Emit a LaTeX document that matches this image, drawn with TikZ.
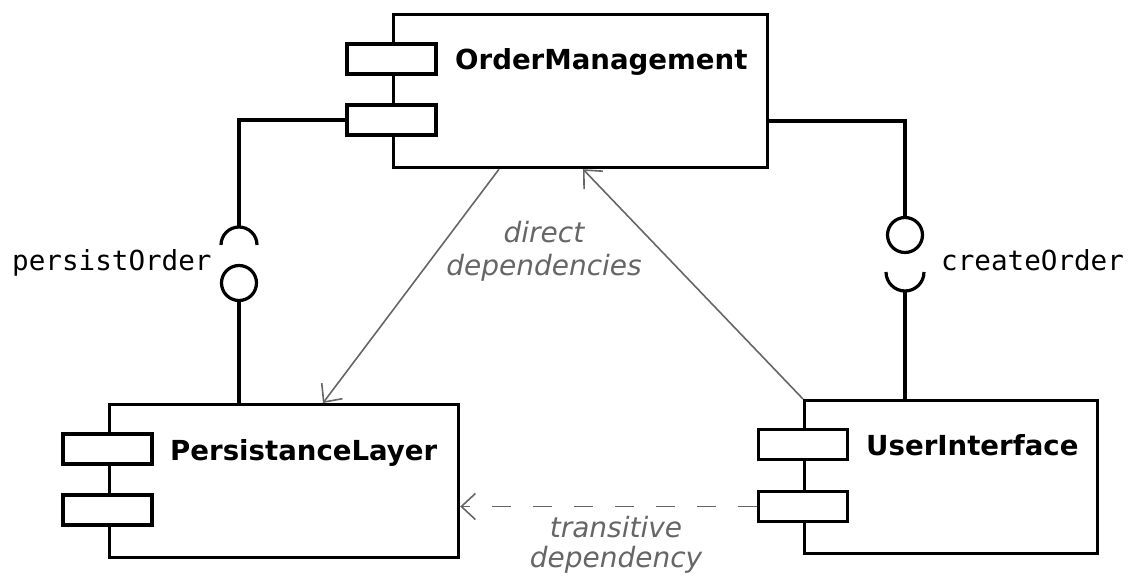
\documentclass[tikz,border=0pt]{standalone}
\usepackage{fontspec}
\setmainfont{DejaVu Sans}
\newfontfamily\codefont{DejaVu Sans Mono}
\usetikzlibrary{arrows.meta}
\definecolor{depgray}{HTML}{666666}

\begin{document}
\begin{tikzpicture}[x=1pt,y=-1pt,
  comp/.style={draw, line width=3.2pt, fill=white, inner sep=0pt, anchor=north west,
               minimum height=153pt},
  port/.style={draw, line width=3.2pt, fill=white, inner sep=0pt,
               minimum width=89pt, minimum height=30pt},
  ball/.style={draw, line width=3.2pt, fill=white, circle, inner sep=0pt, minimum size=35pt},
  wire/.style={line width=3.2pt},
  title/.style={anchor=base west, inner sep=0pt, font=\bfseries\fontsize{27.6}{30}\selectfont},
  iface/.style={anchor=base west, inner sep=0pt, font=\codefont\fontsize{27.6}{30}\selectfont},
  dep/.style={draw=depgray, line width=1.6pt,
              -{Straight Barb[length=14pt, width=26pt, line width=1.6pt]}},
  deplabel/.style={anchor=base, inner sep=0pt, align=center, text=depgray}
]
\useasboundingbox (0,0) rectangle (1128,578);

% components
\node[comp, minimum width=374pt] (OM) at (392,13) {};
\node[comp, minimum width=349pt] (PL) at (108,403) {};
\node[comp, minimum width=293pt] (UI) at (803,399) {};

% component ports
\node[port] (OMp1) at (391.5,59) {};
\node[port] (OMp2) at (391.5,120) {};
\node[port] (PLp1) at (107.5,449) {};
\node[port] (PLp2) at (107.5,510) {};
\node[port] (UIp1) at (803,444.5) {};
\node[port] (UIp2) at (803,506.5) {};

% component names
\node[title] (OMt) at (455,70) {OrderManagement};
\node[title] (PLt) at (170,460) {PersistanceLayer};
\node[title] (UIt) at (866,455) {UserInterface};

% persistOrder: required by OrderManagement, provided by PersistanceLayer
\coordinate (sockL) at (239,227);
\node[ball] (ballL) at (239,283) {};
\draw[wire] (OMp2.west) -| (sockL);
\draw[wire] ([xshift=-18pt,yshift=-18pt]sockL) arc[start angle=180, end angle=0, radius=18pt];
\draw[wire] (ballL.south) -- (ballL.south |- PL.north);
\node[iface] (pOrd) at (12,270) {persistOrder};

% createOrder: provided by OrderManagement, required by UserInterface
\node[ball] (ballR) at (905,235) {};
\coordinate (sockR) at (905,291);
\draw[wire] ([yshift=-108pt]OM.north east) -| (ballR.north);
\draw[wire] ([xshift=-19pt,yshift=19pt]sockR) arc[start angle=180, end angle=360, radius=19pt];
\draw[wire] (sockR) -- (sockR |- UI.north);
\node[iface] (cOrd) at (941,270) {createOrder};

% dependencies
\draw[dep] ([xshift=107pt]OM.south west) -- ([xshift=215pt]PL.north west);
\draw[dep] (UI.north west) -- ([xshift=191pt]OM.south west);
\draw[dep, dash pattern=on 19pt off 22pt] (UIp2.west) -- (UIp2.west -| PL.east);

\node[deplabel, font=\itshape\fontsize{28}{33}\selectfont] (direct) at (544,275)
  {direct\\dependencies};
\node[deplabel, font=\itshape\fontsize{28}{30}\selectfont] (trans) at (616,567)
  {transitive\\dependency};
\end{tikzpicture}
\end{document}
